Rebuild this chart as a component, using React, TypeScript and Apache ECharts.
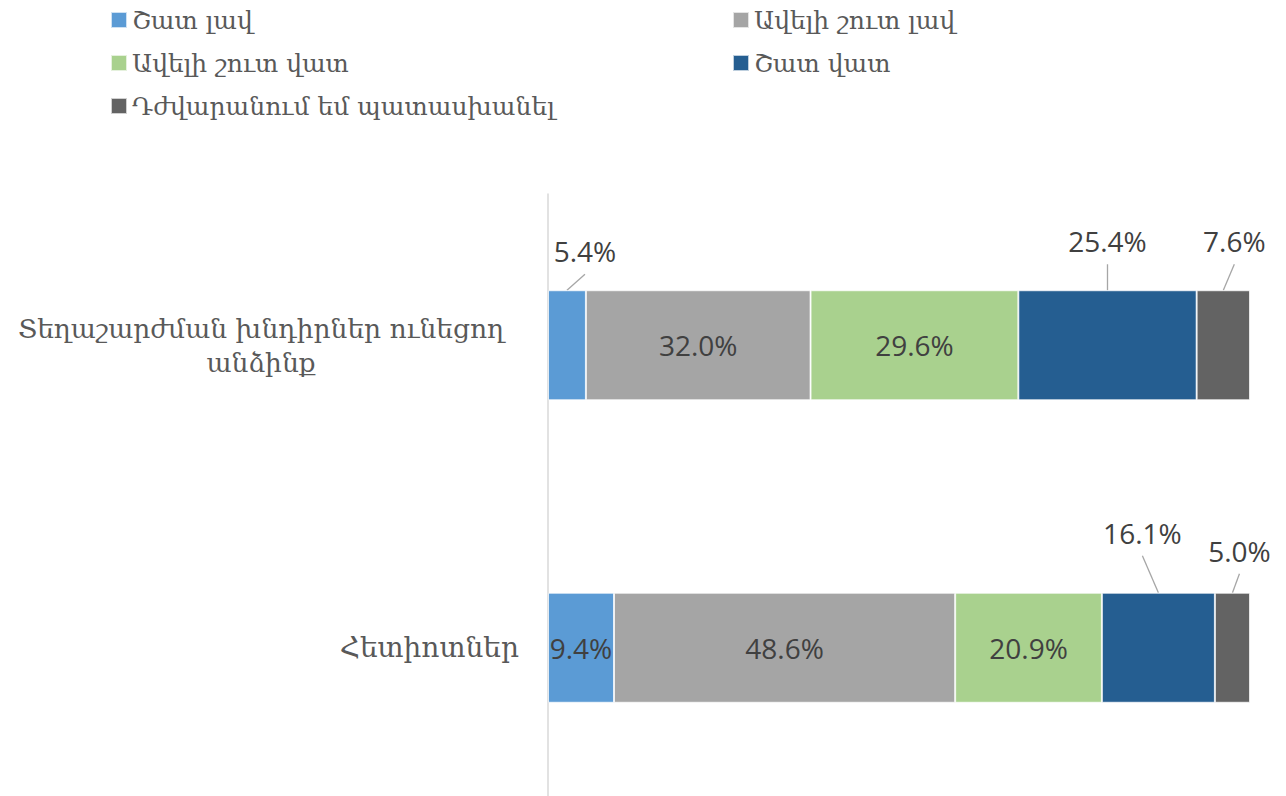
import React, { useEffect, useRef } from "react";
import * as echarts from "echarts";

const categories = ["Տեղաշարժման խնդիրներ ունեցող անձինք", "Հետիոտներ"];
const seriesNames = ["Շատ լավ", "Ավելի շուտ լավ", "Ավելի շուտ վատ", "Շատ վատ", "Դժվարանում եմ պատասխանել"];
const seriesValues = [
  [5.4, 9.4],
  [32.0, 48.6],
  [29.6, 20.9],
  [25.4, 16.1],
  [7.6, 5.0],
];
const colors = ["#5B9BD5", "#A5A5A5", "#A9D18E", "#255E91", "#636363"];

// label offsets (layout), relative to the bar segment's top-centre
const outsideOffsets: Record<string, [number, number]> = {
  "0-0": [18, -39],
  "3-0": [0, -49],
  "4-0": [11, -49],
  "3-1": [-16, -60],
  "4-1": [7, -42],
};

const BAR_W = 110;
const ARM = "'DejaVu Serif', serif";
const NUM = "'Open Sans', 'DejaVu Sans', sans-serif";

export default function App() {
  const ref = useRef<HTMLDivElement>(null);
  useEffect(() => {
    const chart = echarts.init(ref.current!, undefined, { renderer: "svg" });
    const series = seriesNames.map((name, si) => ({
      name,
      type: "bar",
      stack: "total",
      barWidth: BAR_W,
      itemStyle: { color: colors[si], borderColor: "rgba(255,255,255,0.7)", borderWidth: 1 },
      label: {
        show: true,
        position: "inside",
        formatter: (p: any) => p.value.toFixed(1) + "%",
        color: "#404040",
        fontSize: 28,
        fontFamily: NUM,
      },
      labelLayout: (p: any) => {
        const off = outsideOffsets[`${p.seriesIndex}-${p.dataIndex}`];
        if (!off) return {};
        const cx = p.rect.x + p.rect.width / 2;
        return {
          x: cx + off[0],
          y: p.rect.y + off[1],
          align: "center",
          verticalAlign: "middle",
        };
      },
      data: seriesValues[si],
    }));
    const legendBase = {
      orient: "vertical",
      top: 1,
      itemWidth: 16,
      itemHeight: 16,
      itemGap: 15,
      icon: "rect",
      textStyle: { fontSize: 25, color: "#595959", fontFamily: ARM, lineHeight: 28 },
    };
    const option: any = {
      animation: false,
      legend: [
        { ...legendBase, data: [seriesNames[0], seriesNames[2], seriesNames[4]], left: 105 },
        { ...legendBase, data: [seriesNames[1], seriesNames[3]], left: 727 },
      ],
      grid: { left: 547, right: 36, top: 194, bottom: 1 },
      xAxis: { type: "value", min: 0, max: 100, show: false },
      yAxis: {
        type: "category",
        inverse: true,
        data: categories,
        axisLine: { show: true, lineStyle: { color: "#D9D9D9", width: 1.5 } },
        axisTick: { show: false },
        axisLabel: {
          margin: 29,
          color: "#595959",
          fontSize: 28,
          fontFamily: ARM,
          formatter: (v: string) => {
            if (v === categories[0]) {
              return "{c|Տեղաշարժման խնդիրներ ունեցող}\n{c|անձինք}";
            }
            return v;
          },
          rich: {
            c: { width: 516, align: "center", fontSize: 26.5, color: "#595959", fontFamily: ARM, lineHeight: 34 },
          },
        },
      },
      series,
    };
    chart.setOption(option);

    // leader lines from segment top-centre to the moved labels
    const lines: any[] = [];
    Object.keys(outsideOffsets).forEach((key) => {
      const [si, di] = key.split("-").map(Number);
      let cum = 0;
      for (let k = 0; k < si; k++) cum += seriesValues[k][di];
      const mid = cum + seriesValues[si][di] / 2;
      const pt = chart.convertToPixel({ gridIndex: 0 }, [mid, di]) as number[];
      const top = pt[1] - BAR_W / 2;
      const off = outsideOffsets[key];
      lines.push({
        type: "line",
        shape: { x1: pt[0], y1: top, x2: pt[0] + off[0], y2: top + off[1] + 23 },
        style: { stroke: "#A6A6A6", lineWidth: 1.3 },
        silent: true,
      });
    });
    chart.setOption({ graphic: lines });
    return () => chart.dispose();
  }, []);
  return (
    <div style={{ position: "absolute", left: 0, top: 0, width: 1286, height: 796, overflow: "hidden" }}>
      <div ref={ref} style={{ width: 1286, height: 800 }} />
    </div>
  );
}
